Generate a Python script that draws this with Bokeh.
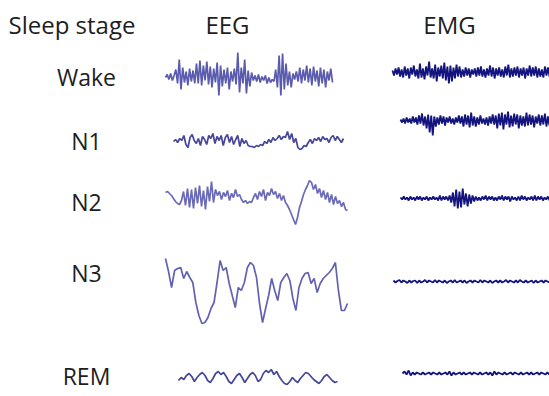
from bokeh.plotting import figure
from bokeh.models import Range1d
from bokeh.core.properties import value
from bokeh.embed import file_html
from bokeh.resources import INLINE

# ---------------- data ----------------
stages = ["Wake", "N1", "N2", "N3", "REM"]
headers = ["Sleep stage", "EEG", "EMG"]

# EEG traces (uV, positive = up), equally spaced samples
eeg_wake = [0, 3, -2, 4, -3, 2,
            8, -6, 18, -12, 10, -5, 6, -8, 9, -4, 7, -6,
            14, -6, 17, -8, 12, -3, 16, -7, 11, -10, 9, -5,
            15, -18, 12, -9, 8, -6, 10, -12, 6, -4, 9, -7,
            25, -15, 10, -6, 18, -16, 7, -9, 5, -3,
            2, -4, 3, -5, 1, -3, 2, -6, 0, -5, -2, -4,
            8, -10, 22, -18, 24, -12, 14, -8, 6, -10, 4, -2,
            6, -4, 10, -6, 8, -3, 12, -5, 9, -8, 11, -4, 7, -9, 10, -6, 8, -10, 6, -3, 9, -5]

eeg_n1 = [0, 2, -1, 3, 1, 6, -3, -6, 4, 7, 1, -2, 3, -4, 5, 2, -3, 6, 3, 8, -2, 5, 1, 6,
          -4, 4, 7, -1, 5, -3, 2, 6, -5, 3, -2, 1, -4, -5, -5, -6, -4, -5, -3, -4, 0, -2,
          2, -1, 4, 1, 3, 6, 2, 5, 4, 10, 2, 8, -1, 3, -6, -8, -7, -4, -5, -1, 2, -2, 3,
          1, 4, 0, 5, 2, 3, -1, 4, 6, 1, 5, 2, -1, 3]

eeg_n2 = [5, 6, 4, 2, -1, -4, -6, -7,
          -3, 6, -8, 9, -10, 8, -11, 10, -6, 12, -9, 7, -12, 11, -4, 16, -5, 8,
          2, 6, -2, 5, 1, 7, -3, 4, 0, 8, 1, 3,
          -2, -5, -3, -6, -4, -5,
          0, 4, -2, 6, 1, 8, -3, 5, 2, 9, 3, 6, -1, 4, -3, 2,
          -5, -8, -12, -17, -22, -27, -20, -10,
          -4, 3, 8, 12, 17, 15,
          8, 13, 4, 9, 0, 7, -2, 5, -5, 3, -7, 1, -6, -3, -9, -5, -12, -13]

eeg_n3 = [29, 16, 0, 17, 19, 20, 9, 16, 10, 5, -15, -28, -36, -35, -30, -21, -15, 5,
          27, 17, 20, 4, -8, -20, 0, -3, 5, 20, 25, 22, 10, -16, -35, -21, -8, 9, -3,
          -13, 5, 10, 14, 7, -11, -23, 0, 9, 14, 15, 4, 9, -5, 4, 9, 12, 15, 19, 25,
          -3, -23, -23, -16]

eeg_rem = [-2, 1, -1, 3, 5, 2, -3, 1, 4, 6, 3, -2, -4, 0, 5, 7, 4, 6, 2, -3, -5, -1, 3,
           5, 1, -4, 0, 4, 6, 3, -3, -1, 5, 8, 6, 9, 4, 7, 2, -2, -5, -6, -3, 1, -2, -4,
           0, 3, 6, 5, 2, -1, -3, -5, -2, 2, 4, 1, -2, -4, -3]

# EMG traces (uV, positive = up)
emg_wake = [2, -3, 4, -2, 5, -4, 3, -5, 6, -3, 4, -6, 5, -2, 7, -4, 3, -6, 9, -5, 4, -7,
            6, -3, 11, -5, 4, -6, 8, -9, 5, -4, 7, -6, 10, -8, 6, -11, 7, -9, 5, -6, 8,
            -4, 6, -5, 3, -4, 5, -3, 4, -5, 3, -2, 4, -4, 5, -3, 6, -4, 3, -5, 4, -3, 7,
            -4, 5, -6, 4, -3, 5, -4, 3, -5, 6, -3, 8, -5, 4, -4, 5, -3, 6, -5, 4, -3, 5,
            -6, 4, -3, 7, -4, 5, -3, 6, -5, 4, -4, 3, -5, 6, -3, 5, -4]

emg_n1 = [1, -2, 2, -3, 3, -2, 2, -3, 4, -2, 3, -4, 5, -3, 7, -5, 4, -8, 6, -12, 5, -15,
          4, -6, 3, -4, 5, -3, 4, -5, 3, -2, 4, -3, 2, -4, 3, -2, 5, -3, 4, -6, 6, -4, 5,
          -7, 8, -5, 4, -6, 3, -4, 5, -3, 2, -4, 3, -5, 4, -3, 6, -4, 5, -8, 7, -5, 8,
          -9, 6, -4, 9, -7, 5, -6, 7, -4, 6, -8, 5, -5, 4, -6, 8, -5, 6, -4, 5, -7, 4,
          -3, 6, -5, 5, -4, 7, -6, 4, -5]

emg_n2 = [1, -1, 2, -1, 1, -2, 2, -1, 1, -2, 2, -1, 2, -2, 1, -1, 2, -2, 1, -1, 2, -1, 1,
          -2, 3, -2, 2, -1, 2, -2, 3, -4, 6, -8, 9, -10, 7, -9, 10, -6, 5, -8, 4, -5, 3,
          -3, 2, -2, 1, -2, 2, -1, 3, -2, 2, -1, 2, -2, 1, -2, 2, -1, 3, -2, 2, -1, 2, -3,
          2, -1, 1, -2, 2, -2, 3, -1, 2, -2, 1, -1, 2, -2, 3, -2, 2, -1, 2, -2, 1, -1, 2, -2]

emg_n3 = [1, -1, 0.5, 1.5, -1, 1, 0, -1.5, 1, -1, 0.5, 1, -1.5, 1, -1, 0, 1.5, -1, 1, 0,
          -1, 1.5, -1, 1, 0, -1, 1, -1.5, 0, 1, -1, 1.5, -1, 0, 1, -1, 1, -1.5, 0, 1, -1,
          1, 0, -1, 1.5, -1, 1, 0, -1, 1, -1.5, 0, 1, -1, 1, -1, 0, 1.5, -1, 1, 0, -1, 1,
          -1, 1.5, 0, -1, 1, -1, 0, 1, -1.5, 1, -1, 0, 1, -1, 1, 0, -1]

emg_rem = [0, 2, -1, 3, -2, 1, -1, 1, 0, -1, 1, -1, 0, 1, -1, 1, 0, -1, 1, -1, 0, 1, -1,
           2, -2, 1, -1, 0, 1, -1, 1, -1, 0, 1, -1, 1, 0, -1, 1, -1, 0, 1, -1, 1, -2, 2,
           -1, 1, 0, -1, 1, -1, 0, 1, -1, 1, 0, -1, 1, -1, 0, 1, -1, 1, -1, 0, 1, -1, 1,
           0, -1, 1, -1]

eeg = {"Wake": eeg_wake, "N1": eeg_n1, "N2": eeg_n2, "N3": eeg_n3, "REM": eeg_rem}
emg = {"Wake": emg_wake, "N1": emg_n1, "N2": emg_n2, "N3": emg_n3, "REM": emg_rem}

# ---------------- layout (page pixel coordinates) ----------------
W, H = 549, 396
LABEL_X = 86
LABEL_Y = {"Wake": 76, "N1": 140, "N2": 201, "N3": 272, "REM": 375}
EEG_POS = {"Wake": (165, 332, 77), "N1": (173, 343, 141), "N2": (165, 347, 197),
           "N3": (165, 347, 287), "REM": (178, 337, 378)}
EMG_POS = {"Wake": (392, 549, 72), "N1": (400, 549, 120), "N2": (400, 549, 198),
           "N3": (393, 549, 281), "REM": (402, 549, 373)}
EEG_COLOR = {"Wake": "#5252aa", "N1": "#3c3c94", "N2": "#6262b4", "N3": "#5a5aae",
             "REM": "#3c3c92"}
HEADER_POS = [(8, "left"), (227, "center"), (449, "center")]
HEADER_Y = 24
EEG_SCALE = 1.0
EMG_SCALE = 1.0
FONT = "Open Sans"

p = figure(width=W, height=H, output_backend="svg", toolbar_location=None,
           x_range=Range1d(0, W), y_range=Range1d(H, 0), min_border=0)
p.axis.visible = False
p.grid.visible = False
p.outline_line_color = None
p.background_fill_color = "white"
p.border_fill_color = "white"


def trace(vals, pos, scale):
    x0, x1, yc = pos
    n = len(vals)
    xs = [x0 + (x1 - x0) * i / (n - 1) for i in range(n)]
    ys = [yc - v * scale for v in vals]
    return xs, ys


for s in stages:
    xs, ys = trace(eeg[s], EEG_POS[s], EEG_SCALE)
    p.line(xs, ys, line_color=EEG_COLOR[s], line_width=1.7, line_alpha=0.95)
    xs, ys = trace(emg[s], EMG_POS[s], EMG_SCALE)
    p.line(xs, ys, line_color="#14147e", line_width=1.8)

# stage labels
p.text(x=[LABEL_X] * len(stages), y=[LABEL_Y[s] for s in stages], text=stages,
       text_align="center", text_baseline="middle", text_font=value(FONT),
       text_font_size="23px", text_color="#1e1e1e")

# headers
for (hx, align), h in zip(HEADER_POS, headers):
    p.text(x=[hx], y=[HEADER_Y], text=[h], text_align=align, text_baseline="middle",
           text_font=value(FONT), text_font_size="24px", text_color="#1e1e1e")

open("out.html", "w").write(file_html(p, INLINE))
